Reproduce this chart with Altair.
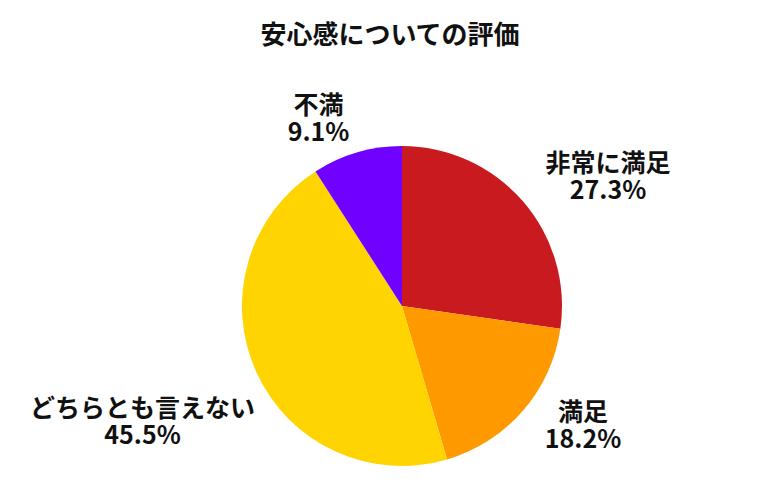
import altair as alt
import pandas as pd

# 安心感アンケートの回答数（11件）
labels = ["非常に満足", "満足", "どちらとも言えない", "不満"]
counts = [3, 2, 5, 1]
colors = ["#C91B1F", "#FF9900", "#FFD400", "#7000FF"]

FONT = "Noto Sans CJK JP"
W, H = 764, 420
CX, CY = 394, 247   # pie centre inside the plot area
RADIUS = 160
LABEL_R = 190       # labels sit on this circle, aligned outward
MARGIN = 22         # keep labels this far from the chart edge
FS = 25
LH = 27

df = pd.DataFrame({"label": labels, "count": counts, "idx": range(len(labels))})

base = alt.Chart(df).transform_joinaggregate(
    total="sum(count)"
).transform_window(
    cum="sum(count)", sort=[alt.SortField("idx")]
)

pie = base.mark_arc(outerRadius=RADIUS).encode(
    theta=alt.Theta("count:Q", stack=True),
    color=alt.Color("label:N", scale=alt.Scale(domain=labels, range=colors), legend=None),
    order=alt.Order("idx:Q"),
    x=alt.value(CX),
    y=alt.value(CY),
)

# label layout: point on a circle at the slice's mid angle, slid along
# the circle when the text would run past the chart edge
text = base.transform_calculate(
    mid="(datum.cum - datum.count / 2) / datum.total * 2 * PI",
    s="sin(datum.mid)",
    c="cos(datum.mid)",
    pct="format(datum.count / datum.total, '.1%')",
    txt="datum.label + '\\n' + datum.pct",
    w=f"max(length(datum.label) * {FS}, length(datum.pct) * {FS} * 0.6)",
    ex0=f"{CX} + {LABEL_R} * datum.s",
    ex=f"datum.s < 0 ? max(datum.ex0, {MARGIN} + datum.w) : min(datum.ex0, {W - MARGIN} - datum.w)",
    ey=f"{CY} - (datum.c > 0 ? 1 : -1) * sqrt(max(0, {LABEL_R * LABEL_R} - pow(datum.ex - {CX}, 2)))",
    px="datum.ex + (datum.s > 0 ? 1 : -1) * datum.w / 2",
    py=f"datum.ey - 4 - {LH / 2}",
).mark_text(
    font=FONT, fontSize=FS, fontWeight="bold", color="#111111",
    align="center", baseline="middle", lineBreak="\n", lineHeight=LH,
).encode(
    x=alt.X("px:Q", scale=None, axis=None),
    y=alt.Y("py:Q", scale=None, axis=None),
    text="txt:N",
)

chart = alt.layer(pie, text).properties(
    width=W,
    height=H,
    padding={"top": 15, "left": 0, "right": 0, "bottom": 0},
    title=alt.TitleParams(
        "安心感についての評価", font=FONT, fontSize=26, fontWeight="bold",
        color="#111111", anchor="middle", offset=10,
    ),
).configure_view(stroke=None)

chart.save("out.html", embed_options={"renderer": "svg", "actions": False})
